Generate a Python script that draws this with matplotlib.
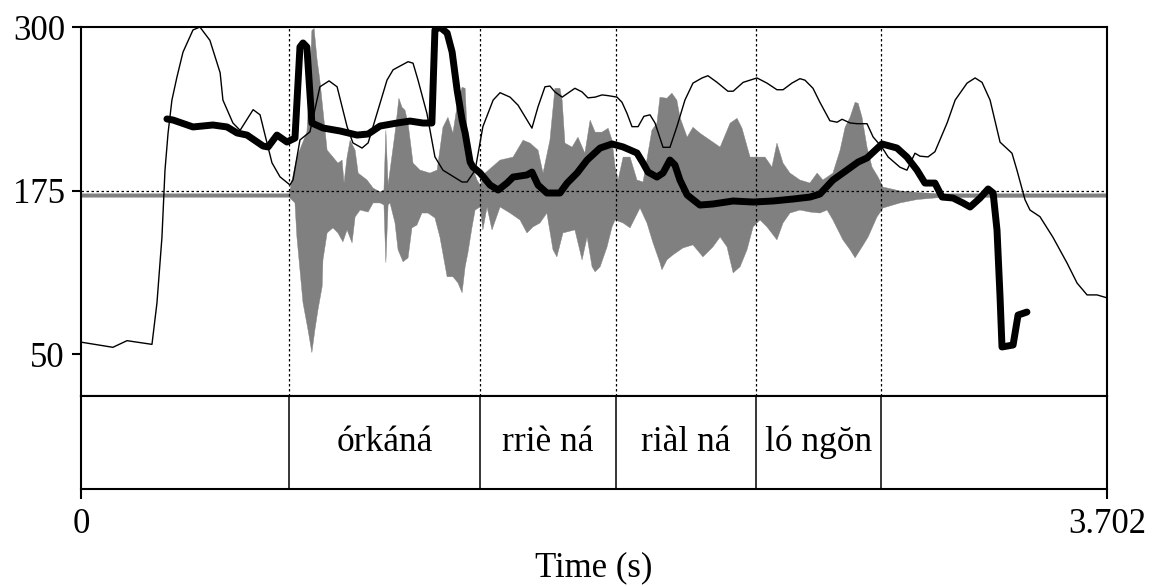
import numpy as np
import matplotlib.pyplot as plt

plt.rcParams['font.family'] = ['Liberation Serif', 'DejaVu Serif']

duration = 3.702

# pitch contour (Hz)
pitch_t = [0.310, 0.332, 0.404, 0.476, 0.527, 0.563, 0.599, 0.657, 0.675, 0.707,
           0.743, 0.772, 0.790, 0.801, 0.815, 0.833, 0.873, 0.935, 0.996, 1.036,
           1.079, 1.140, 1.187, 1.234, 1.266, 1.277, 1.295, 1.321, 1.339, 1.357,
           1.375, 1.386, 1.404, 1.414, 1.440, 1.476, 1.505, 1.537, 1.559, 1.609,
           1.627, 1.649, 1.681, 1.728, 1.754, 1.790, 1.826, 1.873, 1.916, 1.956,
           2.006, 2.028, 2.046, 2.078, 2.100, 2.125, 2.143, 2.161, 2.187, 2.233,
           2.280, 2.353, 2.425, 2.497, 2.569, 2.630, 2.666, 2.713, 2.764, 2.804,
           2.836, 2.890, 2.944, 2.980, 3.016, 3.045, 3.081, 3.107, 3.146, 3.182,
           3.208, 3.244, 3.273, 3.291, 3.305, 3.316, 3.323, 3.363, 3.381, 3.413]
pitch_hz = [229.7, 228.9, 223.6, 225.1, 223.6, 219.0, 217.4, 209.0, 208.3, 217.4,
            212.1, 215.1, 284.7, 287.8, 284.7, 226.6, 222.8, 220.5, 217.4, 218.2,
            224.3, 226.6, 228.1, 226.6, 226.6, 297.7, 300.0, 295.4, 280.9, 251.8,
            228.9, 219.0, 196.8, 193.0, 188.4, 179.2, 175.4, 180.7, 185.3, 186.9,
            189.1, 179.2, 173.1, 173.1, 180.7, 188.4, 198.3, 207.5, 210.6, 208.3,
            203.7, 196.0, 189.1, 185.3, 188.4, 198.3, 194.5, 183.0, 171.6, 163.9,
            164.7, 167.0, 166.2, 167.0, 168.5, 170.0, 172.3, 183.0, 190.7, 196.8,
            199.9, 210.6, 207.5, 200.6, 190.7, 180.7, 180.7, 170.0, 169.3, 165.5,
            162.4, 169.3, 176.2, 173.1, 144.8, 93.6, 55.4, 56.9, 79.8, 82.1]

# intensity contour (dB)
int_t = [0.000, 0.115, 0.166, 0.256, 0.274, 0.292, 0.303, 0.314, 0.328, 0.346,
         0.368, 0.404, 0.429, 0.465, 0.502, 0.512, 0.548, 0.574, 0.621, 0.646,
         0.671, 0.689, 0.718, 0.754, 0.765, 0.790, 0.826, 0.862, 0.895, 0.924,
         0.960, 0.981, 1.014, 1.036, 1.068, 1.104, 1.126, 1.180, 1.198, 1.216,
         1.248, 1.277, 1.306, 1.375, 1.393, 1.422, 1.450, 1.487, 1.512, 1.548,
         1.577, 1.627, 1.649, 1.674, 1.692, 1.710, 1.736, 1.782, 1.808, 1.829,
         1.855, 1.880, 1.902, 1.934, 1.952, 1.970, 1.988, 2.010, 2.031, 2.053,
         2.071, 2.100, 2.125, 2.150, 2.179, 2.208, 2.241, 2.262, 2.295, 2.334,
         2.353, 2.389, 2.439, 2.475, 2.511, 2.533, 2.565, 2.594, 2.612, 2.641,
         2.666, 2.702, 2.728, 2.746, 2.775, 2.800, 2.836, 2.858, 2.890, 2.912,
         2.955, 2.980, 3.009, 3.027, 3.056, 3.081, 3.125, 3.154, 3.197, 3.226,
         3.251, 3.280, 3.316, 3.359, 3.377, 3.406, 3.424, 3.460, 3.507, 3.558,
         3.594, 3.630, 3.666, 3.702]
int_db = [37.3, 36.6, 37.5, 37.0, 42.6, 51.5, 60.6, 65.6, 70.1, 73.2,
          76.6, 79.6, 80.0, 78.2, 73.8, 70.1, 67.0, 66.0, 68.8, 68.1,
          64.3, 61.6, 59.7, 58.6, 59.3, 64.7, 65.8, 71.9, 72.7, 71.9,
          66.5, 64.3, 63.6, 64.3, 68.3, 72.8, 74.2, 75.3, 75.1, 72.8,
          68.3, 62.4, 60.6, 59.0, 59.0, 60.6, 66.5, 70.1, 71.1, 70.5,
          69.4, 66.3, 69.2, 71.9, 72.0, 71.2, 70.5, 71.7, 71.2, 70.4,
          70.5, 70.8, 70.7, 70.5, 69.8, 68.3, 66.5, 66.5, 67.9, 68.1,
          67.0, 63.7, 63.7, 66.5, 70.1, 72.4, 73.1, 73.4, 72.5, 71.3,
          71.3, 72.5, 73.1, 72.4, 71.5, 71.5, 72.4, 73.0, 72.8, 71.7,
          69.8, 67.3, 67.1, 67.5, 67.0, 66.9, 66.9, 65.1, 63.7, 62.4,
          61.0, 60.6, 62.9, 62.5, 62.4, 63.1, 67.0, 70.1, 72.4, 73.1,
          72.5, 70.1, 64.4, 62.9, 60.6, 56.6, 55.2, 54.3, 51.5, 48.0,
          45.3, 43.7, 43.7, 43.3]

# waveform envelope (relative amplitude)
wave_top_t = [0.000, 0.751, 0.779, 0.815, 0.826, 0.833, 0.841, 0.852, 0.862, 0.873,
              0.888, 0.909, 0.927, 0.942, 0.949, 0.960, 0.971, 0.989, 1.000, 1.032,
              1.054, 1.079, 1.093, 1.100, 1.108, 1.133, 1.147, 1.158, 1.169, 1.180,
              1.198, 1.223, 1.259, 1.285, 1.306, 1.324, 1.342, 1.360, 1.375, 1.386,
              1.396, 1.411, 1.429, 1.440, 1.458, 1.512, 1.559, 1.595, 1.620, 1.649,
              1.667, 1.692, 1.710, 1.728, 1.736, 1.746, 1.772, 1.793, 1.818, 1.837,
              1.855, 1.880, 1.902, 1.916, 1.927, 1.938, 1.956, 1.981, 2.006, 2.028,
              2.060, 2.078, 2.089, 2.114, 2.132, 2.150, 2.161, 2.187, 2.208, 2.233,
              2.270, 2.306, 2.342, 2.367, 2.385, 2.414, 2.468, 2.493, 2.511, 2.533,
              2.558, 2.594, 2.630, 2.656, 2.677, 2.713, 2.739, 2.757, 2.775, 2.793,
              2.804, 2.818, 2.836, 2.854, 2.876, 2.894, 2.955, 3.016, 3.099, 3.702]
wave_top = [0.010, 0.010, 0.228, 0.376, 0.683, 0.979, 0.991, 0.802, 0.683, 0.506,
            0.269, 0.228, 0.192, 0.210, 0.074, 0.228, 0.328, 0.269, 0.133, 0.092,
            0.044, 0.021, 0.033, 0.388, 0.062, 0.370, 0.577, 0.524, 0.506, 0.429,
            0.192, 0.151, 0.133, 0.151, 0.405, 0.464, 0.370, 0.565, 0.642, 0.636,
            0.269, 0.169, 0.092, 0.062, 0.133, 0.210, 0.228, 0.328, 0.311, 0.269,
            0.133, 0.328, 0.636, 0.636, 0.565, 0.311, 0.287, 0.346, 0.251, 0.447,
            0.376, 0.376, 0.399, 0.328, 0.169, 0.092, 0.228, 0.228, 0.092, 0.080,
            0.388, 0.429, 0.583, 0.577, 0.607, 0.565, 0.464, 0.346, 0.405, 0.370,
            0.328, 0.287, 0.429, 0.458, 0.399, 0.228, 0.228, 0.169, 0.311, 0.192,
            0.133, 0.092, 0.074, 0.133, 0.092, 0.133, 0.269, 0.405, 0.464, 0.553,
            0.547, 0.464, 0.287, 0.169, 0.109, 0.050, 0.027, 0.018, 0.010, 0.010]

wave_bot_t = [0.000, 0.751, 0.772, 0.779, 0.790, 0.801, 0.819, 0.833, 0.844, 0.855,
              0.870, 0.873, 0.888, 0.909, 0.927, 0.945, 0.960, 0.978, 0.989, 1.007,
              1.036, 1.054, 1.079, 1.093, 1.100, 1.108, 1.115, 1.133, 1.144, 1.162,
              1.180, 1.194, 1.212, 1.230, 1.252, 1.277, 1.295, 1.321, 1.342, 1.360,
              1.375, 1.386, 1.396, 1.411, 1.422, 1.440, 1.450, 1.465, 1.483, 1.512,
              1.548, 1.584, 1.609, 1.631, 1.656, 1.681, 1.703, 1.717, 1.739, 1.782,
              1.808, 1.826, 1.844, 1.855, 1.873, 1.898, 1.916, 1.927, 1.956, 1.981,
              2.017, 2.042, 2.064, 2.089, 2.096, 2.114, 2.136, 2.172, 2.208, 2.244,
              2.280, 2.306, 2.331, 2.353, 2.378, 2.403, 2.425, 2.450, 2.475, 2.511,
              2.533, 2.558, 2.594, 2.630, 2.666, 2.692, 2.713, 2.749, 2.775, 2.793,
              2.818, 2.840, 2.872, 2.894, 2.955, 3.016, 3.099, 3.702]
wave_bot = [-0.010, -0.010, -0.044, -0.246, -0.441, -0.636, -0.796, -0.932, -0.796, -0.678,
            -0.541, -0.382, -0.222, -0.192, -0.222, -0.275, -0.204, -0.281, -0.127, -0.086,
            -0.098, -0.044, -0.044, -0.056, -0.399, -0.056, -0.044, -0.163, -0.322, -0.393,
            -0.370, -0.192, -0.175, -0.104, -0.104, -0.133, -0.246, -0.482, -0.482, -0.518,
            -0.577, -0.423, -0.340, -0.186, -0.086, -0.068, -0.204, -0.068, -0.204, -0.068,
            -0.104, -0.145, -0.222, -0.186, -0.163, -0.104, -0.322, -0.364, -0.222, -0.204,
            -0.382, -0.246, -0.423, -0.453, -0.423, -0.305, -0.186, -0.145, -0.163, -0.192,
            -0.074, -0.163, -0.281, -0.399, -0.441, -0.382, -0.352, -0.311, -0.293, -0.364,
            -0.305, -0.246, -0.305, -0.459, -0.423, -0.322, -0.186, -0.145, -0.186, -0.263,
            -0.163, -0.104, -0.086, -0.098, -0.104, -0.086, -0.145, -0.263, -0.322, -0.370,
            -0.305, -0.246, -0.127, -0.074, -0.044, -0.024, -0.012, -0.010]

# text grid tier
bounds = [0.0, 0.751, 1.440, 1.929, 2.435, 2.887, 3.702]
labels = ['', 'órkáná', 'rriè ná', 'riàl ná', 'ló ngŏn', '']

fig = plt.figure(figsize=(11.54, 5.86), dpi=100)
left, width = 0.0702, 0.8891
rect_top = [left, 0.3242, width, 0.6297]
rect_tier = [left, 0.1655, width, 0.1587]

# waveform, intensity and pitch share one box, each with its own y scale
ax_w = fig.add_axes(rect_top)
ax_i = fig.add_axes(rect_top, sharex=ax_w, facecolor='none')
ax = fig.add_axes(rect_top, sharex=ax_w, facecolor='none')

ax_w.fill(np.concatenate([wave_top_t, wave_bot_t[::-1]]),
          np.concatenate([wave_top, wave_bot[::-1]]),
          color='#808080', lw=0.3, ec='#808080')
ax_w.set_ylim(-1.19, 1.0)

ax_i.plot(int_t, int_db, color='black', lw=1.0)
ax_i.set_ylim(30, 80)

ax.plot(pitch_t, pitch_hz, color='black', lw=5, solid_joinstyle='round',
        solid_capstyle='round')
ax.set_ylim(17.9, 300)
ax.set_xlim(0, duration)
ax.axhline(175, color='black', lw=0.9, ls=(0, (2, 2)))
for b in bounds[1:-1]:
    ax.axvline(b, color='black', lw=0.9, ls=(0, (2, 2)))

for a in (ax_w, ax_i):
    a.set_axis_off()

ax.set_yticks([50, 175, 300])
ax.set_yticklabels(['50', '175', '300'])
ax.set_xticks([])
ax.tick_params(axis='y', direction='out', length=6.5, width=1.5, pad=5, labelsize=25)
for s in ax.spines.values():
    s.set_linewidth(1.5)

# tier below
tier = fig.add_axes(rect_tier)
tier.set_xlim(0, duration)
tier.set_ylim(0, 1)
for b in bounds[1:-1]:
    tier.axvline(b, color='black', lw=1.1)
for i, lab in enumerate(labels):
    if lab:
        tier.text((bounds[i] + bounds[i + 1]) / 2, 0.5, lab, ha='center',
                  va='center', fontsize=25.5)
tier.set_yticks([])
tier.set_xticks([0, duration])
tier.set_xticklabels(['0', '3.702'])
tier.tick_params(axis='x', direction='out', length=7, width=1.5, pad=7, labelsize=25)
for s in tier.spines.values():
    s.set_linewidth(1.5)
tier.set_xlabel('Time (s)', fontsize=25, labelpad=7)

fig.savefig('out.png', dpi=100)
